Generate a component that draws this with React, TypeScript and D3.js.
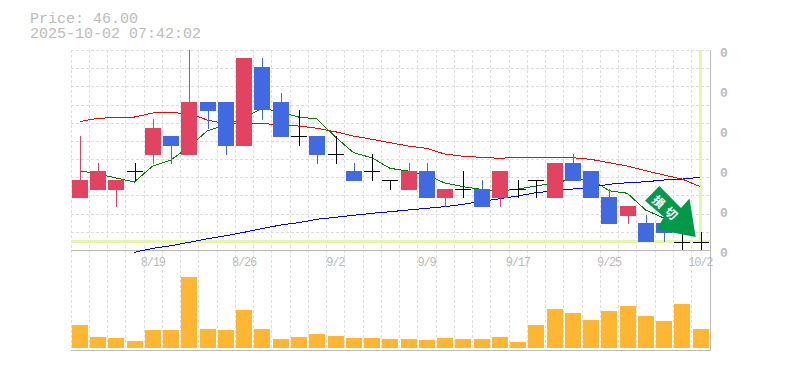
import React from "react";
import * as d3 from "d3";

const titleLines = ["Price: 46.00", "2025-10-02 07:42:02"];
const opens = [50.8,51.7,51.7,53.8,55.6,57.7,55.6,61.5,61.5,56.6,65.4,61.5,57.7,57.7,55.7,53.8,53.8,52.8,51.7,53.8,50.8,51.8,51.8,50.8,51.8,52.8,50.8,54.7,53.8,50.9,48.8,48.05,48.05,46,46];
const closes = [52.8,53.8,52.8,53.8,58.6,56.6,61.5,60.5,56.6,66.4,60.6,57.6,57.7,55.6,55.7,52.7,53.8,52.8,53.8,50.8,51.8,51.8,49.8,53.8,51.8,52.8,54.7,52.7,50.8,47.9,49.9,46,46.95,46,46];
const highs = [57.7,54.7,52.8,54.7,59.6,57.7,67.28,61.5,61.5,66.4,66.4,62.5,60.6,57.7,57.7,54.7,55.7,52.8,54.7,54.7,51.8,53.8,52.8,53.8,52.8,52.8,54.7,55.7,53.8,51.8,49.9,48.9,48.05,46.95,47.05];
const lows = [50.8,51.7,49.8,52.7,54.6,54.6,55.6,58.5,55.6,56.6,59.5,57.6,56.6,54.6,54.6,52.7,52.7,51.7,51.7,50.8,49.8,50.8,49.8,49.8,50.8,50.8,50.8,52.7,50.8,47.9,47.9,46,46,45.05,45.05];
const volumes = [23,11,10,7,18,18,71,19,18,38,19,9,11,14,12,10,10,9,9,8,10,9,9,11,6,23,39,35,28,37,42,32,27,44,19];
const maShort: (number | null)[] = [53.87,53.5,53.06,52.61,54.39,55.06,56.53,58.31,58.94,59.72,60.83,60.39,59.83,59.61,57.64,55.87,55.31,54.13,53.83,53.39,52.5,52.09,51.8,51.61,51.83,52.17,52.5,52.94,52.94,51.64,51.36,49.5,48.61,null,null];
const maMid = [59.33,59.69,59.78,59.83,60.28,60.33,60.2,59.5,59.06,59.11,59.13,58.94,58.83,58.58,58.2,57.72,57.36,56.98,56.61,56.36,55.72,55.47,55.36,55.24,55.36,55.36,55.36,55.31,55.13,54.76,54.39,53.87,53.39,52.94,52.09];
const maLong: (number | null)[] = [null,null,null,44.8,45.24,45.53,45.91,46.31,46.64,47.02,47.43,47.83,48.09,48.47,48.69,48.91,49.13,49.31,49.5,49.69,49.87,50.13,50.45,50.75,51.06,51.42,51.64,51.83,52.02,52.36,52.53,52.64,52.83,52.94,53.13];
const dateLabels: [number, string][] = [[4,"8/19"],[9,"8/26"],[14,"9/2"],[19,"9/9"],[24,"9/17"],[29,"9/25"],[34,"10/2"]];
const yTickLabels = ["0","0","0","0","0","0"];
const currentPrice = 46;
const signalText = "損切";

const GRID = "#dddddd";
const AXIS = "#bbbbbb";
const TEXT = "#bbbbbb";
const UP = "#e24360";
const DOWN = "#4169e1";
const VOL = "#ffb733";
const MARK = "#e4f6a9";
const ARROW = "#009a49";
const MONO = "'Liberation Mono', monospace";

const L = 70.5, R = 709.5, T = 50, B = 250, VB = 348, VT = 277, VAXIS = 350;

export default function App() {
  const n = opens.length;
  const idx = d3.range(n);
  const slot = d3.scaleBand<number>().domain(idx).range([L, R]);
  const y = d3.scaleLinear().domain([46, 67.28]).range([241.5, 50]);
  const v = d3.scaleLinear().domain([0, d3.max(volumes)!]).range([VB, VT]);
  const barLeft = (i: number) => Math.round(slot(i)! + 1.4);
  const cx = (i: number) => slot(i)! + slot.bandwidth() / 2;
  const line = d3.line<number | null>()
    .defined((d) => d !== null)
    .x((_, i) => cx(i))
    .y((d) => y(d as number));
  const hGrid = d3.range(12).map((k) => T + (k * (B - T)) / 11);
  const vGrid = d3.range(n + 1).map((k) => Math.round(L + k * slot.step()) + 0.5);
  const yTickY = yTickLabels.map((_, i) => 53 + i * 40);
  const yNow = y(currentPrice);

  return (
    <svg width={785} height={370} style={{ position: "absolute", left: 0, top: 0, background: "#fff" }}>
      {titleLines.map((t, i) => (
        <text key={t} x={30} y={23 + i * 15} fontFamily={MONO} fontSize={15} fill={TEXT}>{t}</text>
      ))}
      <g shapeRendering="crispEdges">
        {hGrid.slice(0, 11).map((g) => (
          <line key={g} x1={L} x2={R} y1={Math.round(g) + 0.5} y2={Math.round(g) + 0.5} stroke={GRID} strokeDasharray="3 2" />
        ))}
        {vGrid.map((g) => (
          <line key={g} x1={g} x2={g} y1={T} y2={VAXIS} stroke={GRID} strokeDasharray="3 2" />
        ))}
        <rect x={L} y={yNow - 1.5} width={R - L} height={3} fill={MARK} />
        <rect x={699} y={T} width={3} height={yNow - T} fill={MARK} />
        <line x1={L} x2={R} y1={B + 0.5} y2={B + 0.5} stroke={AXIS} />
        <line x1={L} x2={R + 1} y1={VAXIS + 0.5} y2={VAXIS + 0.5} stroke={AXIS} />
        <line x1={R + 0.5} x2={R + 0.5} y1={T} y2={VAXIS} stroke={AXIS} />
      </g>
      <g shapeRendering="crispEdges" fill="none" strokeWidth={1}>
        <path d={line(maMid)!} stroke="#ff0000" />
        <path d={line(maShort)!} stroke="#008000" />
        <path d={line(maLong)!} stroke="#0000ff" />
      </g>
      <g shapeRendering="crispEdges">
        {idx.map((i) => {
          const flat = opens[i] === closes[i];
          const color = flat ? "#000000" : closes[i] > opens[i] ? UP : DOWN;
          const left = barLeft(i);
          const top = y(Math.max(opens[i], closes[i]));
          const bot = y(Math.min(opens[i], closes[i]));
          return (
            <g key={i}>
              <rect x={left + 8} y={y(highs[i])} width={1} height={y(lows[i]) - y(highs[i])} fill={color} />
              {flat ? (
                <rect x={left} y={Math.round(top)} width={16} height={1} fill={color} />
              ) : (
                <rect x={left} y={Math.round(top)} width={16} height={Math.round(bot) - Math.round(top)} fill={color} />
              )}
              <rect x={left} y={v(volumes[i])} width={16} height={VB - v(volumes[i])} fill={VOL} />
            </g>
          );
        })}
      </g>
      <polygon points="659.3,186 645,200.7 664,217 656.5,229.5 695.7,237 689.5,198.5 681,208" fill={ARROW} />
      <text
        transform="translate(667.5,208.5) rotate(43)"
        textAnchor="middle"
        dominantBaseline="central"
        fontFamily="'Noto Sans CJK JP', sans-serif"
        fontWeight={700}
        fontSize={12}
        letterSpacing={5}
        fill="#ffffff"
      >
        {signalText}
      </text>
      {dateLabels.map(([i, t]) => (
        <text key={t} x={cx(i)} y={266} textAnchor="middle" fontFamily={MONO} fontSize={12} letterSpacing={-1.2} fill={TEXT}>{t}</text>
      ))}
      {yTickLabels.map((t, i) => (
        <text key={i} x={720} y={yTickY[i] + 4} fontFamily={MONO} fontSize={13} fontWeight={700} fill={TEXT}>{t}</text>
      ))}
    </svg>
  );
}
